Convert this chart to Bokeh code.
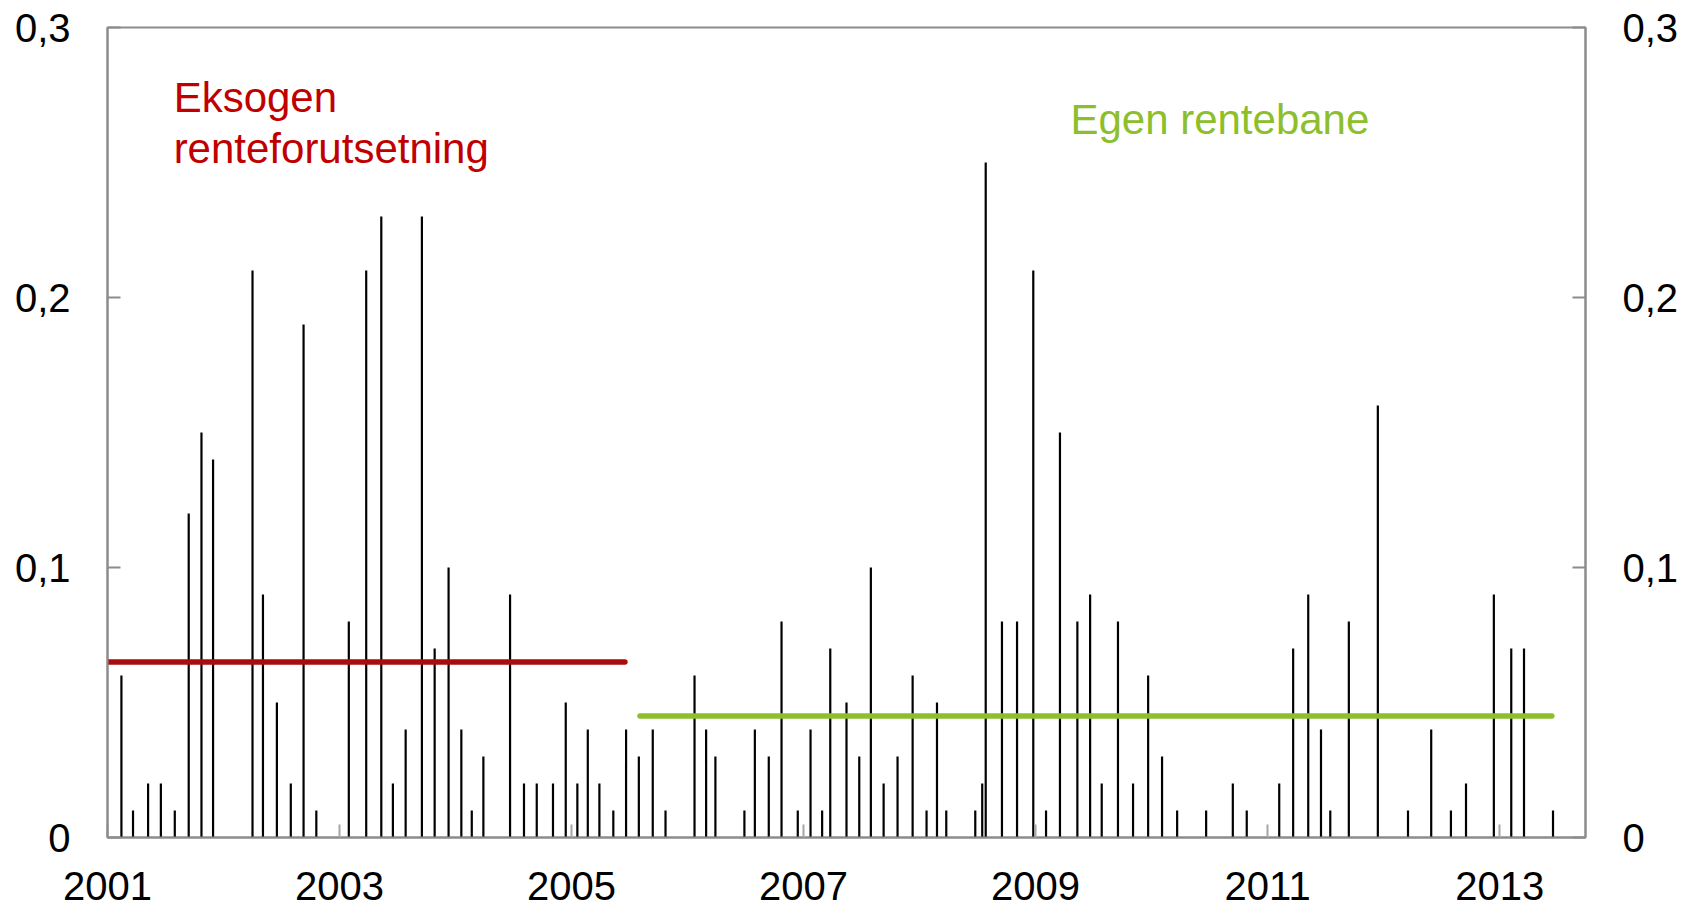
from bokeh.plotting import figure
from bokeh.models import Range1d, LinearAxis, FixedTicker, CustomJSTickFormatter, Label
from bokeh.embed import file_html
from bokeh.resources import INLINE

# Meeting dates (decimal years) and values
dates = [
    2001.12, 2001.22, 2001.35, 2001.46, 2001.58, 2001.70, 2001.81, 2001.91,
    2002.25, 2002.34, 2002.46, 2002.58, 2002.69, 2002.80,
    2003.08, 2003.23, 2003.36, 2003.46, 2003.57, 2003.71, 2003.82, 2003.94,
    2004.05, 2004.14, 2004.24, 2004.47, 2004.59, 2004.70, 2004.84, 2004.95,
    2005.05, 2005.14, 2005.24, 2005.36, 2005.47, 2005.58, 2005.70, 2005.81,
    2006.06, 2006.16, 2006.24, 2006.49, 2006.58, 2006.70, 2006.81, 2006.95,
    2007.06, 2007.16, 2007.23, 2007.37, 2007.48, 2007.58, 2007.69, 2007.81, 2007.94,
    2008.06, 2008.15, 2008.23, 2008.48, 2008.54, 2008.57, 2008.71, 2008.84, 2008.98,
    2009.09, 2009.21, 2009.36, 2009.47, 2009.57, 2009.71, 2009.84, 2009.97,
    2010.09, 2010.22, 2010.47, 2010.70, 2010.82,
    2011.10, 2011.22, 2011.35, 2011.46, 2011.54, 2011.70, 2011.95,
    2012.21, 2012.41, 2012.58, 2012.71, 2012.95,
    2013.10, 2013.21, 2013.46,
]
values = [
    0.06, 0.01, 0.02, 0.02, 0.01, 0.12, 0.15, 0.14,
    0.21, 0.09, 0.05, 0.02, 0.19, 0.01,
    0.08, 0.21, 0.23, 0.02, 0.04, 0.23, 0.07, 0.10,
    0.04, 0.01, 0.03, 0.09, 0.02, 0.02, 0.02, 0.05,
    0.02, 0.04, 0.02, 0.01, 0.04, 0.03, 0.04, 0.01,
    0.06, 0.04, 0.03, 0.01, 0.04, 0.03, 0.08, 0.01,
    0.04, 0.01, 0.07, 0.05, 0.03, 0.10, 0.02, 0.03, 0.06,
    0.01, 0.05, 0.01, 0.01, 0.02, 0.25, 0.08, 0.08, 0.21,
    0.01, 0.15, 0.08, 0.09, 0.02, 0.08, 0.02, 0.06,
    0.03, 0.01, 0.01, 0.02, 0.01,
    0.02, 0.07, 0.09, 0.04, 0.01, 0.08, 0.16,
    0.01, 0.04, 0.01, 0.02, 0.09,
    0.07, 0.07, 0.01,
]

# Regime averages
regime_names = ["Eksogen renteforutsetning", "Egen rentebane"]
regime_start = [2001.0, 2005.59]
regime_end = [2005.46, 2013.45]
regime_level = [0.065, 0.045]

year_ticks = [2001, 2003, 2005, 2007, 2009, 2011, 2013]
y_ticks = [0, 0.1, 0.2, 0.3]

RED_LINE = "#A80C0C"
RED_TEXT = "#C00000"
GREEN = "#8DBE2C"
GRAY = "#8C8C8C"
FONT = "Liberation Sans"

p = figure(width=1698, height=906,
           x_range=Range1d(2001.0, 2013.74), y_range=Range1d(0, 0.3),
           output_backend="svg", toolbar_location=None,
           min_border_left=107, min_border_right=113,
           min_border_top=27, min_border_bottom=69)

p.xgrid.visible = False
p.ygrid.visible = False
p.outline_line_color = GRAY
p.outline_line_width = 2
p.background_fill_color = "white"
p.border_fill_color = "white"

yfmt = CustomJSTickFormatter(code="return tick == 0 ? '0' : tick.toFixed(1).replace('.', ',');")

# left axis
la = p.yaxis[0]
la.ticker = FixedTicker(ticks=y_ticks)
la.formatter = yfmt
# right axis
ra = LinearAxis(ticker=FixedTicker(ticks=y_ticks), formatter=yfmt)
p.add_layout(ra, "right")

for ax in (la, ra):
    ax.axis_line_color = GRAY
    ax.axis_line_width = 2
    ax.major_tick_line_color = GRAY
    ax.major_tick_line_width = 2
    ax.major_tick_in = 13
    ax.major_tick_out = 0
    ax.minor_tick_line_color = None
    ax.major_label_standoff = 37
    ax.major_label_text_font = FONT
    ax.major_label_text_font_size = "40px"
    ax.major_label_text_color = "black"

xa = p.xaxis[0]
xa.ticker = FixedTicker(ticks=year_ticks)
xa.formatter = CustomJSTickFormatter(code="return tick.toFixed(0);")
xa.axis_line_color = GRAY
xa.axis_line_width = 2
xa.major_tick_line_color = "#A6A6A6"
xa.major_tick_line_width = 2
xa.major_tick_in = 13
xa.major_tick_out = 0
xa.minor_tick_line_color = None
xa.major_label_standoff = 34
xa.major_label_text_font = FONT
xa.major_label_text_font_size = "40px"
xa.major_label_text_color = "black"

# bars
p.segment(x0=dates, y0=[0] * len(dates), x1=dates, y1=values,
          line_color="black", line_width=2.2, line_cap="butt")

# regime average lines
p.segment(x0=regime_start[:1], y0=regime_level[:1], x1=regime_end[:1], y1=regime_level[:1],
          line_color=RED_LINE, line_width=5.5, line_cap="round")
p.segment(x0=regime_start[1:], y0=regime_level[1:], x1=regime_end[1:], y1=regime_level[1:],
          line_color=GREEN, line_width=5.5, line_cap="round")

# annotations
p.add_layout(Label(x=2001.57, y=0.2741, text="Eksogen", text_font=FONT,
                   text_font_size="42px", text_color=RED_TEXT, text_baseline="alphabetic"))
p.add_layout(Label(x=2001.57, y=0.2552, text="renteforutsetning", text_font=FONT,
                   text_font_size="42px", text_color=RED_TEXT, text_baseline="alphabetic"))
p.add_layout(Label(x=2009.30, y=0.2660, text=regime_names[1], text_font=FONT,
                   text_font_size="42px", text_color=GREEN, text_baseline="alphabetic"))

open("out.html", "w").write(file_html(p, INLINE))
